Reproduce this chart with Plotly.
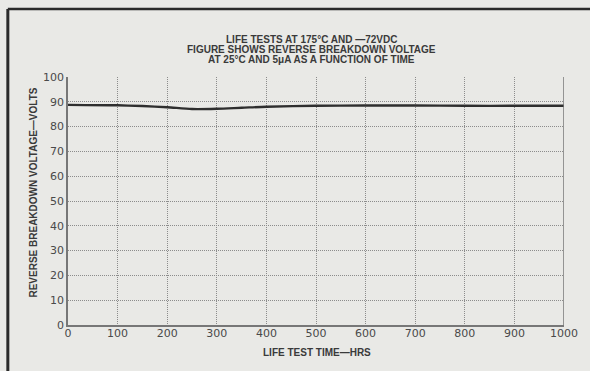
import plotly.graph_objects as go

# Life test readings: reverse breakdown voltage (V) vs. test time (hrs)
hours = [0, 100, 150, 200, 250, 300, 350, 400, 500, 600, 700, 800, 900, 1000]
breakdown_volts = [88.8, 88.6, 88.3, 87.8, 87.1, 87.2, 87.6, 88.0, 88.4, 88.5, 88.5, 88.4, 88.4, 88.4]

x_ticks = [0, 100, 200, 300, 400, 500, 600, 700, 800, 900, 1000]
y_ticks = [0, 10, 20, 30, 40, 50, 60, 70, 80, 90, 100]

title_lines = [
    "LIFE TESTS AT 175°C AND —72VDC",
    "FIGURE SHOWS REVERSE BREAKDOWN VOLTAGE",
    "AT 25°C AND 5μA AS A FUNCTION OF TIME",
]
x_title = "LIFE TEST TIME—HRS"
y_title = "REVERSE BREAKDOWN VOLTAGE—VOLTS"

paper_bg = "#e9e9e6"
grid_col = "#8c8c8c"
ink = "#3a3a3a"
tick_font = dict(family="DejaVu Sans", size=11, color="#4a4a4a")
label_font = dict(family="Liberation Sans, Arial", size=10, color=ink)

fig = go.Figure()
fig.add_trace(go.Scatter(
    x=hours, y=breakdown_volts, mode="lines",
    line=dict(color="#2e2e2e", width=2.3, shape="spline", smoothing=0.8),
    hoverinfo="skip", showlegend=False,
))

axis_common = dict(
    showgrid=True, gridcolor=grid_col, gridwidth=1, griddash="1px,1px",
    showline=True, linecolor="#777777", linewidth=1.5,
    zeroline=False, ticks="", tickfont=tick_font,
)

# stacked heading lines, set individually for tight leading
title_y = [1.152, 1.111, 1.071]
annotations = [
    dict(text="<b>" + line + "</b>", xref="paper", yref="paper", x=0.491, y=yy,
         xanchor="center", yanchor="middle", showarrow=False, font=label_font)
    for line, yy in zip(title_lines, title_y)
]
annotations += [
    dict(text="<b>" + x_title + "</b>", xref="paper", yref="paper", x=0.503, y=-0.109,
         xanchor="center", yanchor="middle", showarrow=False, font=label_font),
    dict(text="<b>" + y_title + "</b>", xref="paper", yref="paper", x=-0.0696, y=0.536,
         xanchor="center", yanchor="middle", showarrow=False, textangle=-90, font=label_font),
]

fig.update_layout(
    width=590, height=371,
    margin=dict(l=68, r=19, t=77, b=46),
    paper_bgcolor=paper_bg, plot_bgcolor=paper_bg,
    showlegend=False,
    xaxis=dict(range=[0, 1000], tickvals=x_ticks, ticktext=[str(v) for v in x_ticks],
               ticklabelstandoff=-3, **axis_common),
    yaxis=dict(range=[0, 100], tickvals=y_ticks, ticktext=[str(v) for v in y_ticks],
               **axis_common),
    annotations=annotations,
    shapes=[
        # right edge of the plotting grid
        dict(type="line", xref="x", yref="y", x0=1000, x1=1000, y0=0, y1=100,
             line=dict(color="#777777", width=1.5)),
        # page frame (left and top rules)
        dict(type="line", xref="paper", yref="paper", x0=-0.1213, x1=-0.1213, y0=-0.3, y1=1.274,
             line=dict(color="#2a2a2a", width=3)),
        dict(type="line", xref="paper", yref="paper", x0=-0.1213, x1=1.1, y0=1.274, y1=1.274,
             line=dict(color="#2a2a2a", width=2.5)),
    ],
)

fig.write_html("out.html")
